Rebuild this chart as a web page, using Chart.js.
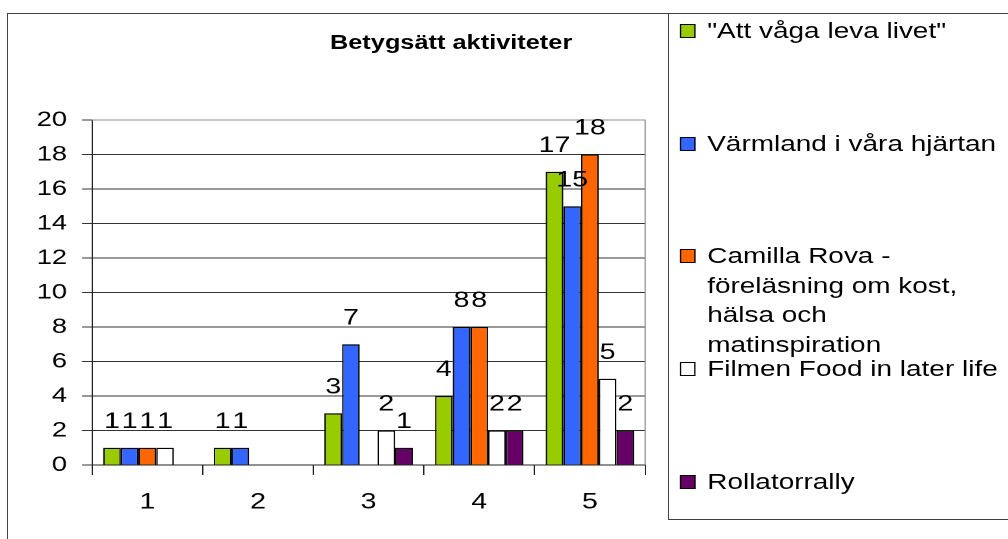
<!DOCTYPE html>
<html lang="sv">
<head>
<meta charset="UTF-8">
<title>Betygsätt aktiviteter</title>
<script src="https://cdn.jsdelivr.net/npm/chart.js"></script>
<style>
  body { margin: 0; width: 1008px; height: 539px; overflow: hidden; background: #fff;
         font-family: "Liberation Sans", Arial, sans-serif; }
  .frame { position: absolute; left: 7px; top: 13px; width: 1100px; height: 600px;
           border-left: 1px solid #404040; border-top: 1px solid #404040; }
  .legendbox { position: absolute; left: 668px; top: 13px; width: 400px; height: 505px;
               border: 1px solid #404040; }
  /* the original picture is stretched sideways, so draw narrower and scale */
  .stretch { position: absolute; left: 0; top: 0; width: 776px; height: 539px;
             transform: scaleX(1.3); transform-origin: 0 0; }
  #wrap { position: absolute; left: 0; top: 0; width: 514px; height: 539px; }
  #title { position: absolute; left: 197px; top: 31px; width: 300px; text-align: center;
           font-weight: bold; font-size: 19.5px; line-height: 22px; color: #000; }
  .item { position: absolute; left: 523px; font-size: 21.5px; line-height: 29.5px; color: #000; }
  .item .sw { position: absolute; left: 0; top: 7px; width: 12px; height: 14px;
              border: 1px solid #000; box-sizing: border-box; }
  .item .tx { position: absolute; left: 21px; top: 0; white-space: pre; }
</style>
</head>
<body>
<div class="frame"></div>
<div class="legendbox"></div>
<div class="stretch">
  <div id="wrap"><canvas id="chart"></canvas></div>
  <div id="title">Betygsätt aktiviteter</div>
  <div id="legend"></div>
</div>

<script>
  const categories = ["1", "2", "3", "4", "5"];
  const seriesNames = [
    "\"Att våga leva livet\"",
    "Värmland i våra hjärtan",
    "Camilla Rova -\nföreläsning om kost,\nhälsa och\nmatinspiration",
    "Filmen Food in later life",
    "Rollatorrally"
  ];
  const attVaga   = [1, 1, 3, 4, 17];
  const varmland  = [1, 1, 7, 8, 15];
  const camilla   = [1, null, null, 8, 18];
  const filmen    = [1, null, 2, 2, 5];
  const rollator  = [null, null, 1, 2, 2];
  const yTicks = [0, 2, 4, 6, 8, 10, 12, 14, 16, 18, 20];

  const seriesValues = [attVaga, varmland, camilla, filmen, rollator];
  const colors = ["#99CC00", "#3366FF", "#FF6600", "#FFFFFF", "#660066"];
  const legendTops = [17, 130, 242, 355, 468];

  // legend
  const legend = document.getElementById("legend");
  seriesNames.forEach((name, i) => {
    const it = document.createElement("div");
    it.className = "item";
    it.style.top = legendTops[i] + "px";
    it.innerHTML = '<div class="sw" style="background:' + colors[i] + '"></div>';
    const tx = document.createElement("div");
    tx.className = "tx";
    tx.textContent = name;
    it.appendChild(tx);
    legend.appendChild(it);
  });

  const valueLabels = {
    id: "valueLabels",
    beforeDatasetsDraw(chart) {
      const { ctx, chartArea: a } = chart;
      ctx.save();
      ctx.strokeStyle = "#8c8c8c";
      ctx.lineWidth = 1;
      ctx.beginPath();
      ctx.moveTo(a.left, a.top);
      ctx.lineTo(a.right, a.top);
      ctx.lineTo(a.right, a.bottom);
      ctx.stroke();
      ctx.restore();
    },
    afterDatasetsDraw(chart) {
      const ctx = chart.ctx;
      ctx.save();
      ctx.font = "22px 'Liberation Sans', Arial, sans-serif";
      ctx.fillStyle = "#000";
      ctx.textAlign = "center";
      ctx.textBaseline = "alphabetic";
      chart.data.datasets.forEach((ds, i) => {
        chart.getDatasetMeta(i).data.forEach((bar, j) => {
          const v = ds.data[j];
          if (v === null || v === undefined) return;
          ctx.fillText(String(v), bar.x, bar.y - 20);
        });
      });
      ctx.restore();
    }
  };

  new Chart(document.getElementById("chart"), {
    type: "bar",
    data: {
      labels: categories,
      datasets: seriesValues.map((vals, i) => ({
        label: seriesNames[i].replace(/\n/g, " "),
        data: vals,
        backgroundColor: colors[i],
        borderColor: "#000",
        borderWidth: 1.2,
        categoryPercentage: 0.8,
        barPercentage: 1.0
      }))
    },
    options: {
      responsive: true,
      maintainAspectRatio: false,
      animation: false,
      devicePixelRatio: 2,
      layout: { padding: { top: 120, right: 17.7, bottom: 0, left: 0 } },
      plugins: {
        legend: { display: false },
        title: { display: false },
        tooltip: { enabled: false }
      },
      scales: {
        x: {
          afterFit: s => { s.height = 74; },
          grid: { drawOnChartArea: false, drawTicks: true, tickLength: 10, color: "#222", offset: true },
          border: { display: true, color: "#222", width: 1 },
          ticks: { color: "#000", padding: 14, font: { family: "'Liberation Sans', Arial", size: 22 } }
        },
        y: {
          min: 0,
          max: 20,
          afterFit: s => { s.width = 70.8; },
          afterBuildTicks: s => { s.ticks = yTicks.map(v => ({ value: v })); },
          grid: { color: "#333", tickLength: 7.7, drawTicks: true },
          border: { display: true, color: "#222", width: 1 },
          ticks: { color: "#000", padding: 11.5, font: { family: "'Liberation Sans', Arial", size: 21 } }
        }
      }
    },
    plugins: [valueLabels]
  });
</script>
</body>
</html>
